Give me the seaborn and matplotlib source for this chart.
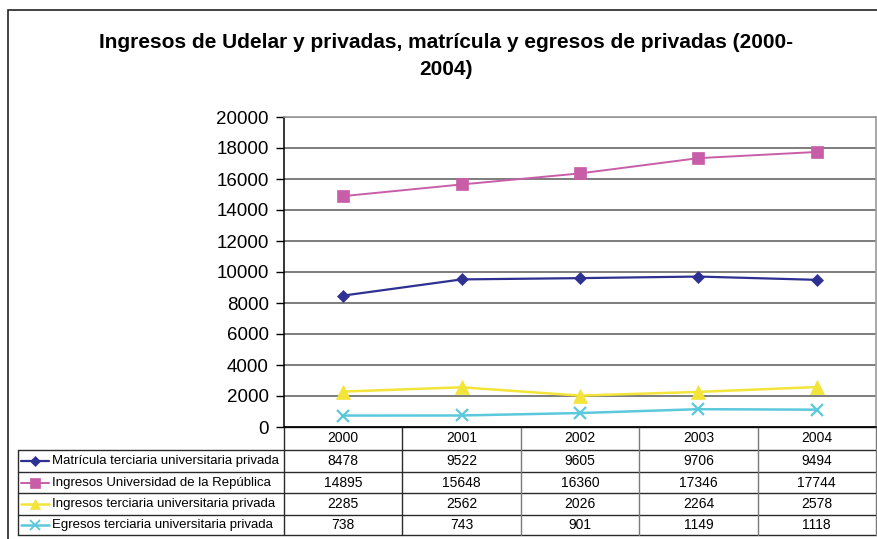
import matplotlib
matplotlib.use("Agg")
import pandas as pd
import matplotlib.pyplot as plt
import matplotlib.transforms as mtransforms
from matplotlib.lines import Line2D
from matplotlib.patches import Rectangle
import seaborn as sns

# data
years = [2000, 2001, 2002, 2003, 2004]
series_names = [
    "Matrícula terciaria universitaria privada",
    "Ingresos Universidad de la República",
    "Ingresos terciaria universitaria privada",
    "Egresos terciaria universitaria privada",
]
matricula_privada = [8478, 9522, 9605, 9706, 9494]
ingresos_udelar = [14895, 15648, 16360, 17346, 17744]
ingresos_privada = [2285, 2562, 2026, 2264, 2578]
egresos_privada = [738, 743, 901, 1149, 1118]
y_ticks = [0, 2000, 4000, 6000, 8000, 10000, 12000, 14000, 16000, 18000, 20000]

title_lines = ["Ingresos de Udelar y privadas, matrícula y egresos de privadas (2000-", "2004)"]

colors = ["#2E3192", "#C85EA8", "#F3E43A", "#5CC8DC"]
markers = ["D", "s", "^", "x"]
marker_sizes = [6.5, 8.5, 9.5, 8.5]
line_widths = [1.6, 1.4, 1.8, 1.8]

sns.set_style("white")
plt.rcParams["font.family"] = ["Liberation Sans", "DejaVu Sans"]
plt.rcParams["text.color"] = "black"
plt.rcParams["ytick.labelcolor"] = "black"

W, H = 877, 539
fig = plt.figure(figsize=(W / 100, H / 100), dpi=100)

# plot area in pixels: x 284..876, y 117..427
ax = fig.add_axes([284 / W, 1 - 427 / H, 592 / W, 310 / H])

values = [matricula_privada, ingresos_udelar, ingresos_privada, egresos_privada]
df = pd.DataFrame({
    "year": years * len(series_names),
    "value": [v for vals in values for v in vals],
    "serie": [name for name in series_names for _ in years],
})

for name, c, m, ms, lw in zip(series_names, colors, markers, marker_sizes, line_widths):
    sub = df[df["serie"] == name]
    sns.lineplot(data=sub, x="year", y="value", ax=ax, color=c, marker=m,
                 markersize=ms, markeredgecolor=c, markerfacecolor=c,
                 markeredgewidth=1.6 if m == "x" else 0.5,
                 linewidth=lw, legend=False, zorder=3)

ax.set_xlim(years[0] - 0.5, years[-1] + 0.5)
ax.set_ylim(0, 20000)
ax.set_yticks(y_ticks)
ax.set_yticklabels([str(t) for t in y_ticks], fontsize=13.5, color="black")
ax.set_xticks([])
ax.set_xlabel("")
ax.set_ylabel("")
ax.yaxis.grid(True, color="#5a5a5a", linewidth=1.1)
ax.tick_params(axis="y", direction="out", length=6, width=1, color="black", pad=5, left=True)
for side in ["top", "right"]:
    ax.spines[side].set_color("#9a9a9a")
    ax.spines[side].set_linewidth(1.2)
for side in ["left", "bottom"]:
    ax.spines[side].set_color("black")
    ax.spines[side].set_linewidth(1.1)

# data table under the axis
trans = mtransforms.blended_transform_factory(ax.transData, ax.transAxes)
col_w = 118.4
def px_to_x(px):
    return years[0] - 0.5 + (px - 284) / col_w

def py_to_y(py):
    return (427 - py) / 310

row_edges = [427, 450, 472, 493, 515, 535]
x_left = px_to_x(18)
x_first = years[0] - 0.5
x_last = years[-1] + 0.5
line_kw = dict(transform=trans, clip_on=False, color="#2a2a2a", linewidth=1.0)

# horizontal rules
ax.plot([x_first, x_last], [py_to_y(row_edges[0])] * 2, **line_kw)
for r in row_edges[1:]:
    ax.plot([x_left, x_last], [py_to_y(r)] * 2, **line_kw)
# vertical rules
ax.plot([x_left, x_left], [py_to_y(row_edges[1]), py_to_y(row_edges[-1])], **line_kw)
for k in range(len(years) + 1):
    xk = x_first + k
    ax.plot([xk, xk], [py_to_y(row_edges[0]), py_to_y(row_edges[-1])],
            transform=trans, clip_on=False,
            color="#2a2a2a" if k in (0, 1) else "#7a7a7a", linewidth=1.0)

# header with years
yc = py_to_y((row_edges[0] + row_edges[1]) / 2)
for yr in years:
    ax.text(yr, yc, str(yr), transform=trans, ha="center", va="center", fontsize=10)

# rows with legend key and numbers
for i, (name, vals) in enumerate(zip(series_names, values)):
    yc = py_to_y((row_edges[i + 1] + row_edges[i + 2]) / 2)
    key = Line2D([px_to_x(21), px_to_x(49)], [yc, yc], transform=trans, clip_on=False,
                 color=colors[i], linewidth=line_widths[i])
    ax.add_line(key)
    ax.plot([px_to_x(35)], [yc], transform=trans, clip_on=False, linestyle="none",
            marker=markers[i], markersize=marker_sizes[i] * 0.8, color=colors[i],
            markeredgecolor=colors[i], markeredgewidth=1.3 if markers[i] == "x" else 0.5)
    ax.text(px_to_x(52), yc, name, transform=trans, ha="left", va="center", fontsize=9.5)
    for yr, v in zip(years, vals):
        ax.text(yr, yc, str(v), transform=trans, ha="center", va="center", fontsize=10)

# title, two lines as in the original
fig.text(446 / W, 1 - 48 / H, title_lines[0], ha="center", va="baseline",
         fontsize=15, fontweight="bold")
fig.text(446 / W, 1 - 75 / H, title_lines[1], ha="center", va="baseline",
         fontsize=15, fontweight="bold")

# outer chart frame
fig.patches.append(Rectangle((8 / W, -0.05), 1.1, 1 - 10 / H + 0.05, transform=fig.transFigure,
                             fill=False, edgecolor="#222222", linewidth=1.2))

fig.savefig("out.png", dpi=100)
